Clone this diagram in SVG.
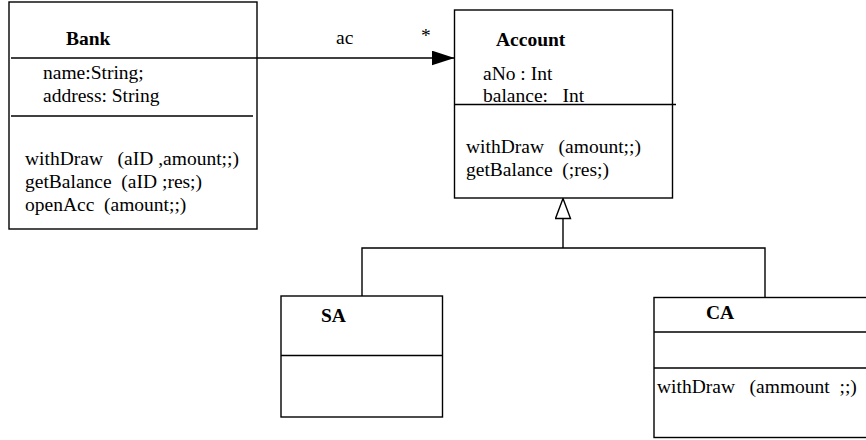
<svg xmlns="http://www.w3.org/2000/svg" width="866" height="440" viewBox="0 0 866 440">
<style>
.box{fill:#fff;stroke:#000;stroke-width:1.4}
.ln{fill:none;stroke:#000;stroke-width:1.4}
text{font-family:"Liberation Serif","Times New Roman",serif;font-size:19.5px;fill:#000;white-space:pre}
.b{font-weight:bold}
</style>
<defs>
<marker id="filled" markerWidth="24" markerHeight="16" refX="23" refY="7.5" orient="auto" markerUnits="userSpaceOnUse">
<path d="M0,0 L23,7.5 L0,15 Z" fill="#000"/>
</marker>
<marker id="hollow" markerWidth="18" markerHeight="22" refX="8.5" refY="0.5" orient="0" markerUnits="userSpaceOnUse">
<path d="M8.5,0.5 L16,20.5 L1,20.5 Z" fill="#fff" stroke="#000" stroke-width="1.4"/>
</marker>
</defs>
<g id="Bank">
<rect class="box" x="9" y="2" width="248" height="227"/>
<line class="ln" x1="11" y1="116" x2="253" y2="116"/>
<text class="b" x="66" y="45">Bank</text>
<text x="43" y="79">name:String;</text>
<text x="43" y="102">address: String</text>
<text x="25" y="165" xml:space="preserve">withDraw   (aID ,amount;;)</text>
<text x="25" y="188" xml:space="preserve">getBalance  (aID ;res;)</text>
<text x="25" y="211" xml:space="preserve">openAcc  (amount;;)</text>
</g>
<g id="Account">
<rect class="box" x="454.5" y="10" width="218" height="188"/>
<line class="ln" x1="454.5" y1="104.5" x2="676" y2="104.5"/>
<text class="b" x="496" y="46">Account</text>
<text x="483" y="80">aNo : Int</text>
<text x="483" y="102" xml:space="preserve">balance:   Int</text>
<text x="466" y="153" xml:space="preserve">withDraw   (amount;;)</text>
<text x="466" y="176" xml:space="preserve">getBalance  (;res;)</text>
</g>
<g id="SA">
<rect class="box" x="281" y="296" width="161.5" height="121"/>
<line class="ln" x1="281" y1="355.5" x2="442.5" y2="355.5"/>
<text class="b" x="321" y="322">SA</text>
</g>
<g id="CA">
<rect class="box" x="654" y="297.5" width="216" height="140"/>
<line class="ln" x1="654" y1="332" x2="866" y2="332"/>
<line class="ln" x1="654" y1="368" x2="866" y2="368"/>
<text class="b" x="706" y="319">CA</text>
<text x="657" y="393" xml:space="preserve">withDraw   (ammount  ;;)</text>
</g>
<g id="connectors">
<line class="ln" x1="11" y1="58" x2="454.5" y2="58" marker-end="url(#filled)"/>
<text x="336" y="44">ac</text>
<text x="421" y="42">*</text>
<polyline class="ln" points="362,296 362,248 765,248 765,297.5"/>
<line class="ln" x1="563" y1="248" x2="563" y2="198.5" marker-end="url(#hollow)"/>
</g>
</svg>
